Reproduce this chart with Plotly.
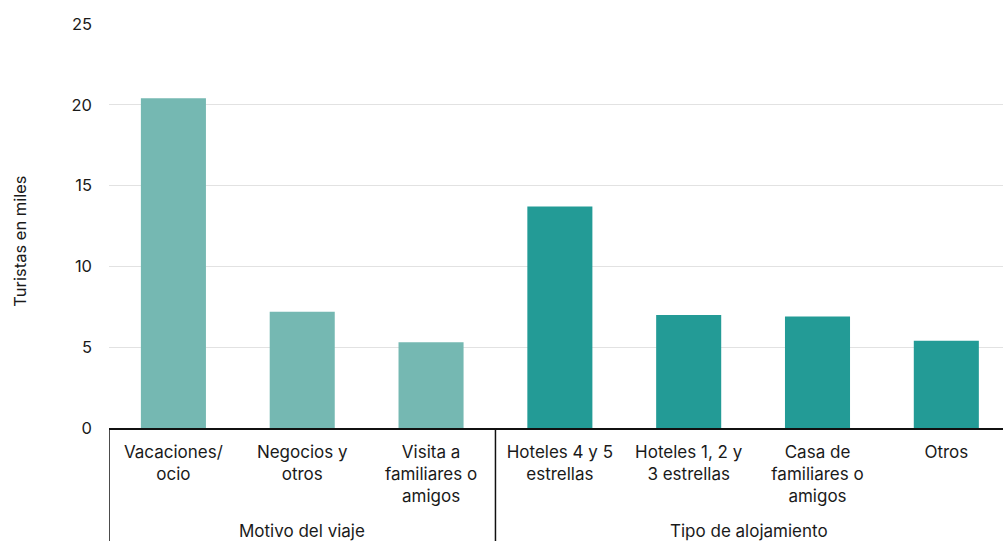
import plotly.graph_objects as go

# Turistas por motivo del viaje y tipo de alojamiento (miles)
categorias = [
    "Vacaciones/ocio",
    "Negocios y otros",
    "Visita a familiares o amigos",
    "Hoteles 4 y 5 estrellas",
    "Hoteles 1, 2 y 3 estrellas",
    "Casa de familiares o amigos",
    "Otros",
]
etiquetas = [
    "Vacaciones/<br>ocio",
    "Negocios y<br>otros",
    "Visita a<br>familiares o<br>amigos",
    "Hoteles 4 y 5<br>estrellas",
    "Hoteles 1, 2 y<br>3 estrellas",
    "Casa de<br>familiares o<br>amigos",
    "Otros",
]
turistas = [20.4, 7.2, 5.3, 13.7, 7.0, 6.9, 5.4]
grupos = ["Motivo del viaje", "Tipo de alojamiento"]
grupo_de = [0, 0, 0, 1, 1, 1, 1]
y_ticks = [0, 5, 10, 15, 20, 25]

colores_grupo = ["#75b8b2", "#239b96"]
FONT = "Inter, Liberation Sans, Arial, sans-serif"

fig = go.Figure(
    go.Bar(
        x=categorias,
        y=turistas,
        width=0.505,
        marker=dict(color=[colores_grupo[g] for g in grupo_de], line=dict(width=0)),
        hoverinfo="x+y",
    )
)

fig.update_layout(
    width=1003,
    height=541,
    margin=dict(l=109, r=0, t=24, b=112.5),
    paper_bgcolor="white",
    plot_bgcolor="white",
    showlegend=False,
    bargap=0.5,
    font=dict(family=FONT, color="#1a1a1a", size=17),
)

fig.update_xaxes(
    type="category",
    range=[-0.5, 6.44],
    tickvals=categorias,
    ticktext=etiquetas,
    tickfont=dict(size=17),
    showline=True,
    linecolor="#111111",
    linewidth=1.5,
    ticks="",
    showgrid=False,
    ticklabelstandoff=8,
)

fig.update_yaxes(
    range=[0, 25],
    tickvals=y_ticks,
    tickfont=dict(size=16.5),
    showgrid=True,
    gridcolor="#e2e2e2",
    gridwidth=1.3,
    zeroline=False,
    showline=False,
    ticks="",
    ticklabelstandoff=16,
)

# Título del eje vertical
fig.add_annotation(
    text="Turistas en miles",
    textangle=-90,
    xref="paper",
    yref="paper",
    x=-0.0996,
    y=0.4635,
    xanchor="center",
    yanchor="middle",
    showarrow=False,
    font=dict(size=16.5),
)

# Separadores verticales del eje de categorías
n_por_grupo = [grupo_de.count(0), grupo_de.count(1)]
bordes = [-0.5, n_por_grupo[0] - 0.5]
for xb in bordes:
    fig.add_shape(
        type="line",
        xref="x",
        yref="paper",
        x0=xb,
        x1=xb,
        y0=0,
        y1=-0.3,
        line=dict(color="#111111", width=1.5),
    )

# Etiquetas de grupo
centros = [(n_por_grupo[0] - 1) / 2, n_por_grupo[0] + 1.47]
for nombre, cx in zip(grupos, centros):
    fig.add_annotation(
        x=cx,
        y=-0.254,
        xref="x",
        yref="paper",
        text=nombre,
        showarrow=False,
        font=dict(size=17),
        yanchor="middle",
    )

fig.write_html("out.html")
